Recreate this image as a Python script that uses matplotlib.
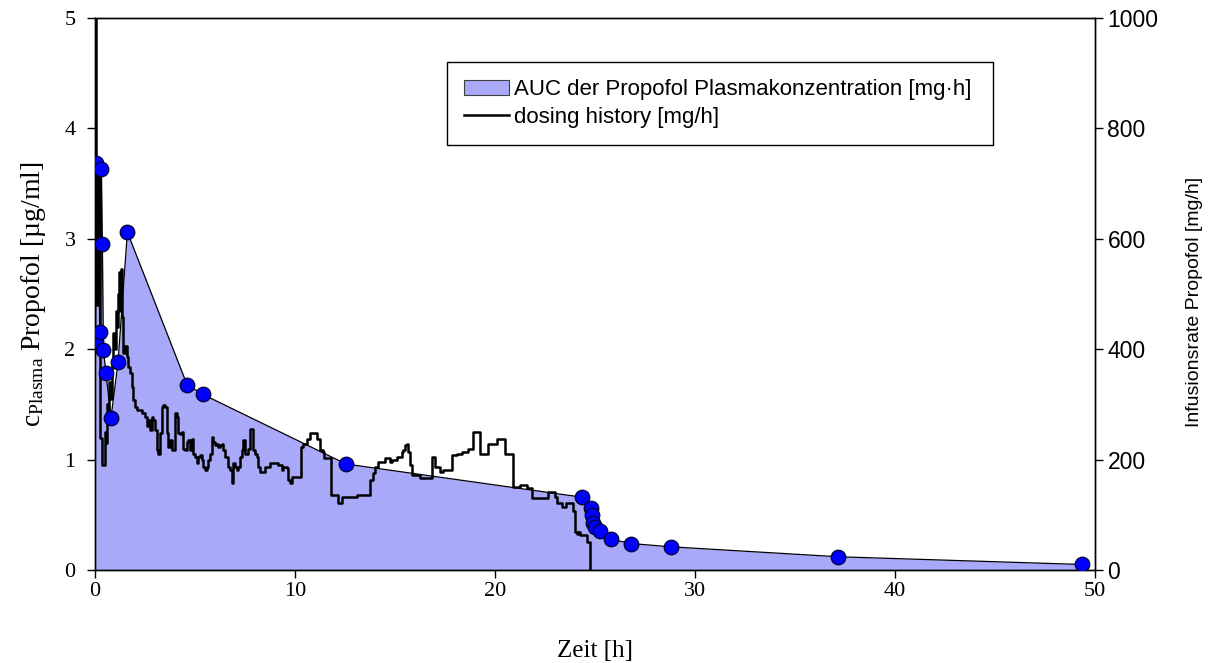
import matplotlib
matplotlib.use("Agg")
import matplotlib.pyplot as plt
from matplotlib.patches import Patch
from matplotlib.lines import Line2D

# ---- data ----
# plasma concentration samples (left axis, µg/ml)
pk_time = [0.03, 0.07, 0.25, 0.32, 0.37, 0.42, 0.55, 0.80, 1.15, 1.62, 4.6, 5.4,
           12.55, 24.33, 24.78, 24.83, 24.88, 25.0, 25.25, 25.78, 26.78, 28.8, 37.15, 49.35]
pk_conc = [2.07, 3.69, 2.16, 3.63, 2.95, 1.99, 1.78, 1.38, 1.88, 3.06, 1.68, 1.59,
           0.96, 0.66, 0.56, 0.50, 0.43, 0.39, 0.35, 0.28, 0.24, 0.21, 0.12, 0.05]

# dosing history (right axis, mg/h), step changes
dose_time = [0.00, 0.06, 0.14, 0.26, 0.36, 0.48, 0.55, 0.60, 0.66, 0.72, 0.78, 0.85,
             0.92, 0.98, 1.03, 1.08, 1.13, 1.18, 1.23, 1.28, 1.35, 1.42, 1.50, 1.58,
             1.67, 1.75, 1.83, 1.92, 2.00, 2.08, 2.17, 2.33, 2.50, 2.58, 2.67, 2.75,
             2.83, 2.92, 3.00, 3.08, 3.17, 3.25, 3.33, 3.42, 3.50, 3.58, 3.67, 3.75,
             3.83, 4.00, 4.08, 4.17,
             4.25, 4.33, 4.42, 4.50, 4.58, 4.67, 4.75, 4.83, 4.92, 5.00, 5.08, 5.17,
             5.25, 5.33, 5.42, 5.50, 5.58, 5.67, 5.75, 5.83, 5.92, 6.00, 6.08, 6.17,
             6.25, 6.33, 6.42, 6.50, 6.67, 6.75, 6.83, 6.92, 7.00, 7.08, 7.17, 7.25,
             7.33, 7.42, 7.50, 7.67, 7.75, 7.92, 8.00, 8.08, 8.17, 8.25, 8.50, 8.75,
             9.17, 9.33, 9.42, 9.58, 9.67, 9.75, 9.83, 10.28, 10.42, 10.58, 10.75, 11.08,
             11.25, 11.42, 11.45, 11.78, 12.17, 12.33, 13.08, 13.75, 13.92, 14.00, 14.17, 14.50,
             14.75, 14.83, 15.08, 15.33, 15.42, 15.50, 15.58, 15.67, 15.75, 15.83, 16.25, 16.83,
             17.00, 17.25, 17.42, 17.83, 18.08, 18.33, 18.67, 18.92, 19.25, 19.67, 20.08, 20.50,
             20.92, 21.25, 21.58, 21.83, 22.67, 23.00, 23.12, 23.33, 23.55, 23.88, 24.00, 24.08,
             24.17, 24.25, 24.58, 24.75]
dose_rate = [1000, 480, 740, 240, 190, 250, 230, 300, 270, 340, 310, 380,
             430, 400, 470, 440, 500, 540, 470, 546, 459, 393, 405, 386,
             368, 356, 332, 308, 296, 290, 290, 284, 278, 260, 272, 254,
             278, 272, 254, 217, 211, 248, 296, 299, 296, 248, 223, 235,
             217, 284, 278, 248,
             247, 250, 220, 217, 232, 235, 217, 238, 211, 205, 193, 205,
             208, 199, 187, 181, 187, 199, 211, 241, 232, 226, 229, 223,
             226, 229, 217, 205, 187, 181, 157, 193, 187, 181, 187, 205,
             217, 235, 211, 220, 256, 217, 211, 205, 187, 178, 187, 193,
             190, 181, 187, 184, 163, 157, 169, 223, 229, 238, 248, 238,
             217, 214, 202, 136, 121, 133, 136, 163, 175, 187, 196, 202,
             196, 199, 205, 214, 217, 226, 229, 214, 190, 172, 166, 205,
             187, 178, 181, 208, 211, 214, 220, 250, 211, 229, 238, 211,
             151, 154, 148, 130, 142, 133, 121, 115, 121, 106, 69, 66,
             69, 63, 51, 0]

x_ticks = [0, 10, 20, 30, 40, 50]
left_ticks = [0, 1, 2, 3, 4, 5]
right_ticks = [0, 200, 400, 600, 800, 1000]

# ---- styling ----
plt.rcParams['mathtext.fontset'] = 'custom'
plt.rcParams['mathtext.rm'] = 'Liberation Serif'
plt.rcParams['mathtext.it'] = 'Liberation Serif:italic'
serif = 'Liberation Serif'
sans = 'Liberation Sans'

fill_col = '#A9A9F9'
fig = plt.figure(figsize=(12.10, 6.63), dpi=100)
ax = fig.add_axes([95/1210, 1-570/663, 1000/1210, 552/663])
ax2 = ax.twinx()
ax3 = ax.twinx()

# AUC fill (left scale)
ax.fill_between(pk_time, pk_conc, 0, color=fill_col, lw=0)
ax.set_xlim(0, 50)
ax.set_ylim(0, 5)

# dosing history (right scale)
ax2.step(dose_time, dose_rate, where='post', color='black', lw=1.8)
ax2.set_ylim(0, 1000)

# concentration line + markers (left scale, on top)
ax3.plot(pk_time, pk_conc, color='black', lw=0.9, marker='o', ms=10.5,
         mfc='#0000FF', mec='#000030', mew=0.9)
ax3.set_ylim(0, 5)
ax3.set_xlim(0, 50)
ax3.axis('off')

for a in (ax, ax2):
    a.tick_params(direction='out', length=6, width=1, colors='black')
ax.set_xticks(x_ticks)
ax.set_yticks(left_ticks)
ax2.set_yticks(right_ticks)
ax.tick_params(axis='y', pad=8)
ax.tick_params(axis='x', top=False, pad=3)
ax2.tick_params(pad=3)
for lab in ax.get_xticklabels() + ax.get_yticklabels():
    lab.set_fontfamily(serif)
    lab.set_fontsize(16)
for lab in ax2.get_yticklabels():
    lab.set_fontfamily(sans)
    lab.set_fontsize(16.5)
for a in (ax, ax2):
    for s in a.spines.values():
        s.set_linewidth(1.0)

ax.set_xlabel('Zeit [h]', fontfamily=serif, fontsize=18, labelpad=28)
ax.set_ylabel(r'c$_{\mathrm{Plasma}}$ Propofol [µg/ml]', fontfamily=serif,
              fontsize=20, labelpad=12)
ax2.set_ylabel('Infusionsrate Propofol [mg/h]', fontfamily=sans, fontsize=14)
ax2.yaxis.set_label_coords(1.091, 0.486)

handles = [Patch(facecolor=fill_col, edgecolor='#404040', lw=0.8),
           Line2D([0], [0], color='black', lw=1.8)]
labels = ['AUC der Propofol Plasmakonzentration [mg·h]', 'dosing history [mg/h]']
leg = fig.legend(handles, labels, loc='upper left', mode='expand',
                 bbox_to_anchor=(447/1210, 1-142/663, 546/1210, 80/663),
                 prop={'family': sans, 'size': 16},
                 frameon=True, fancybox=False, edgecolor='black', framealpha=1,
                 borderpad=0.78, handlelength=2.0, handletextpad=0.25, labelspacing=0.3,
                 borderaxespad=0)
leg.get_frame().set_linewidth(1.0)

fig.savefig('out.png', dpi=100)
